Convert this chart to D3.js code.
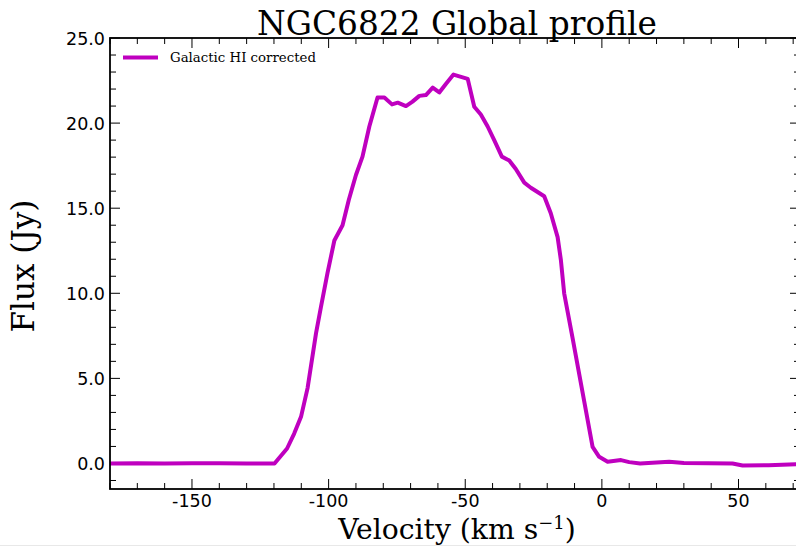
<!DOCTYPE html>
<html>
<head>
<meta charset="utf-8">
<script src="https://cdn.jsdelivr.net/npm/d3@7/dist/d3.min.js"></script>
<style>
  body { margin: 0; background: #fff; }
  svg { display: block; }
</style>
</head>
<body>
<svg id="chart" width="796" height="547"></svg>
<script>
// profile
var velocity = [-180, -170, -160, -150, -140, -130, -122, -119.8, -115.2, -112.6, -110.1, -107.7,
    -104.6, -102.8, -100.4, -97.9, -94.9, -92.6, -90.0, -87.6, -85.1, -82.1, -79.6, -76.8, -74.7,
    -71.7, -69.3, -66.8, -64.4, -61.9, -59.5, -57.1, -54.3, -49.1, -46.7, -44.3, -41.8, -39.4,
    -36.6, -33.9, -31.5, -28.4, -26.0, -21.1, -18.7, -16.2, -15.0, -13.8, -10.7, -3.4, -1.0,
    2.1, 7.0, 10.0, 14.0, 24.6, 30.0, 47.8, 51.5, 61.0, 72.5];
var flux = [0.0, 0.02, 0.0, 0.01, 0.02, 0.0, 0.0, 0.0, 0.88, 1.76, 2.74, 4.43,
    7.66, 9.2, 11.2, 13.1, 14.0, 15.5, 16.95, 18.03, 19.8, 21.5, 21.5, 21.1, 21.2,
    21.0, 21.26, 21.6, 21.65, 22.08, 21.8, 22.3, 22.85, 22.6, 20.96, 20.5, 19.8, 19.0,
    18.03, 17.8, 17.3, 16.5, 16.2, 15.7, 14.7, 13.3, 11.95, 10.0, 7.35, 0.98, 0.39,
    0.1, 0.2, 0.08, 0.0, 0.1, 0.03, 0.0, -0.12, -0.1, -0.04];

var xTicks = [-150, -100, -50, 0, 50];
var yTicks = [0, 5, 10, 15, 20, 25];
var seriesName = 'Galactic HI corrected';

var pLeft = 110, pRight = 800, pTop = 38, pBottom = 489;
var svg = d3.select('#chart');

var x = d3.scaleLinear().domain([-180, 72.5]).range([pLeft, pRight]);
var y = d3.scaleLinear().domain([-1.5, 25]).range([pBottom, pTop]);

var data = velocity.map((v, i) => ({v: v, f: flux[i]}));

// faint image edge at the bottom
svg.append('line')
    .attr('x1', 0).attr('x2', 796)
    .attr('y1', 545.5).attr('y2', 545.5)
    .attr('stroke', '#e8e8e8');

// ticks pointing inwards, on all sides
var xMinor = d3.range(-180, 73, 10).filter(v => xTicks.indexOf(v) < 0);
var yMinor = d3.range(-1, 25, 1).filter(v => yTicks.indexOf(v) < 0);

function xTickLines(vals, len) {
    vals.forEach(v => {
        svg.append('line').attr('x1', x(v)).attr('x2', x(v))
            .attr('y1', pBottom).attr('y2', pBottom - len)
            .attr('stroke', '#000').attr('stroke-width', 1);
        svg.append('line').attr('x1', x(v)).attr('x2', x(v))
            .attr('y1', pTop).attr('y2', pTop + len)
            .attr('stroke', '#000').attr('stroke-width', 1);
    });
}
function yTickLines(vals, len) {
    vals.forEach(v => {
        svg.append('line').attr('x1', pLeft).attr('x2', pLeft + len)
            .attr('y1', y(v)).attr('y2', y(v))
            .attr('stroke', '#000').attr('stroke-width', 1);
        svg.append('line').attr('x1', pRight).attr('x2', pRight - len)
            .attr('y1', y(v)).attr('y2', y(v))
            .attr('stroke', '#000').attr('stroke-width', 1);
    });
}
xTickLines(xTicks, 10);
xTickLines(xMinor, 6);
yTickLines(yTicks, 10);
yTickLines(yMinor, 6);

// tick labels
svg.selectAll('.xlab').data(xTicks).enter().append('text')
    .attr('x', d => x(d)).attr('y', 507)
    .attr('text-anchor', 'middle')
    .style('font-family', 'DejaVu Sans').style('font-size', '17.5px')
    .text(d => d);
svg.selectAll('.ylab').data(yTicks).enter().append('text')
    .attr('x', pLeft - 5).attr('y', d => y(d) + 6.5)
    .attr('text-anchor', 'end')
    .style('font-family', 'DejaVu Sans').style('font-size', '17.5px')
    .text(d => d.toFixed(1));

// the profile
var line = d3.line().x(d => x(d.v)).y(d => y(d.f));
svg.append('path')
    .datum(data)
    .attr('d', line)
    .attr('fill', 'none')
    .attr('stroke', '#bf00bf')
    .attr('stroke-width', 4)
    .attr('stroke-linejoin', 'round');

// frame
svg.append('rect')
    .attr('x', pLeft).attr('y', pTop)
    .attr('width', pRight - pLeft).attr('height', pBottom - pTop)
    .attr('fill', 'none').attr('stroke', '#000').attr('stroke-width', 1.8);

// size a serif text so it spans the wanted width
function fitText(sel, width) {
    var size = parseFloat(sel.style('font-size'));
    var w = sel.node().getComputedTextLength();
    sel.style('font-size', (size * width / w) + 'px');
}

var title = svg.append('text')
    .attr('x', 457).attr('y', 35)
    .attr('text-anchor', 'middle')
    .style('font-family', 'DejaVu Serif').style('font-size', '32px')
    .text('NGC6822 Global profile');
fitText(title, 400);

var xl = svg.append('text')
    .attr('x', 457).attr('y', 539)
    .attr('text-anchor', 'middle')
    .style('font-family', 'DejaVu Serif').style('font-size', '26px');
xl.append('tspan').text('Velocity (km s');
xl.append('tspan').attr('dy', -10).style('font-size', '18px').text('\u22121');
xl.append('tspan').attr('dy', 10).text(')');
fitText(xl, 240);

var yl = svg.append('text')
    .attr('transform', 'translate(34,266) rotate(-90)')
    .attr('text-anchor', 'middle')
    .style('font-family', 'DejaVu Serif').style('font-size', '27px')
    .text('Flux (Jy)');
fitText(yl, 133);

// legend, no frame
svg.append('line')
    .attr('x1', 123).attr('x2', 158)
    .attr('y1', 57.5).attr('y2', 57.5)
    .attr('stroke', '#bf00bf').attr('stroke-width', 4);
var lg = svg.append('text')
    .attr('x', 170).attr('y', 62)
    .style('font-family', 'DejaVu Serif').style('font-size', '12px')
    .text(seriesName);
fitText(lg, 146);
</script>
</body>
</html>
